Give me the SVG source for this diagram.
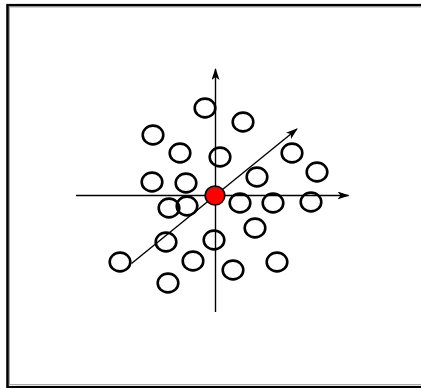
<svg xmlns="http://www.w3.org/2000/svg" width="421" height="388" viewBox="0 0 421 388">
<style>
.c{fill:none;stroke:#000;stroke-width:2.6}
.ax{fill:none;stroke:#000;stroke-width:1.4}
</style>
<defs>
<marker id="ah" viewBox="0 0 12 8" refX="11" refY="4" markerWidth="12" markerHeight="8" markerUnits="userSpaceOnUse" orient="auto">
<path d="M0,0 L12,4 L0,8 L3,4 Z" fill="#000"/>
</marker>
</defs>
<rect x="0" y="0" width="421" height="388" fill="#fff"/>
<rect x="7.5" y="5.2" width="420" height="382" fill="none" stroke="#000" stroke-width="2.6"/>
<rect x="9.5" y="7" width="416" height="377.5" fill="none" stroke="#aaa" stroke-width="1"/>
<g id="connectors">
<line class="ax" x1="76" y1="195.5" x2="348.5" y2="195.5" marker-end="url(#ah)"/>
<line class="ax" x1="215.5" y1="312" x2="215.5" y2="69" marker-end="url(#ah)"/>
<line class="ax" x1="131.5" y1="263.5" x2="297" y2="129" marker-end="url(#ah)"/>
</g>
<g id="n1"><ellipse class="c" cx="205" cy="108" rx="10.3" ry="9.4"/></g>
<g id="n2"><ellipse class="c" cx="243" cy="122" rx="10.3" ry="9.4"/></g>
<g id="n3"><ellipse class="c" cx="153" cy="135" rx="10.3" ry="9.4"/></g>
<g id="n4"><ellipse class="c" cx="180" cy="153" rx="10.3" ry="9.4"/></g>
<g id="n5"><ellipse class="c" cx="220" cy="157" rx="10.3" ry="9.4"/></g>
<g id="n6"><ellipse class="c" cx="292" cy="153" rx="10.3" ry="9.4"/></g>
<g id="n7"><ellipse class="c" cx="317" cy="172" rx="10.3" ry="9.4"/></g>
<g id="n8"><ellipse class="c" cx="152" cy="182" rx="10.3" ry="9.4"/></g>
<g id="n9"><ellipse class="c" cx="186" cy="183" rx="10.3" ry="9.4"/></g>
<g id="n10"><ellipse class="c" cx="257" cy="177" rx="10.3" ry="9.4"/></g>
<g id="n11"><ellipse class="c" cx="169" cy="208" rx="10.3" ry="9.4"/></g>
<g id="n12"><ellipse class="c" cx="187" cy="206" rx="10.3" ry="9.4"/></g>
<g id="n13"><ellipse class="c" cx="240" cy="203" rx="10.3" ry="9.4"/></g>
<g id="n14"><ellipse class="c" cx="273" cy="203" rx="10.3" ry="9.4"/></g>
<g id="n15"><ellipse class="c" cx="311" cy="202" rx="10.3" ry="9.4"/></g>
<g id="n16"><ellipse class="c" cx="255" cy="228" rx="10.3" ry="9.4"/></g>
<g id="n17"><ellipse class="c" cx="214" cy="240" rx="10.3" ry="9.4"/></g>
<g id="n18"><ellipse class="c" cx="166" cy="242" rx="10.3" ry="9.4"/></g>
<g id="n19"><ellipse class="c" cx="120" cy="262" rx="10.3" ry="9.4"/></g>
<g id="n20"><ellipse class="c" cx="193" cy="261" rx="10.3" ry="9.4"/></g>
<g id="n21"><ellipse class="c" cx="233" cy="270" rx="10.3" ry="9.4"/></g>
<g id="n22"><ellipse class="c" cx="277" cy="262" rx="10.3" ry="9.4"/></g>
<g id="n23"><ellipse class="c" cx="168" cy="283" rx="10.3" ry="9.4"/></g>
<g id="origin"><ellipse cx="215" cy="195.5" rx="9.8" ry="9.5" fill="#f00" stroke="#000" stroke-width="1.6"/></g>
</svg>
